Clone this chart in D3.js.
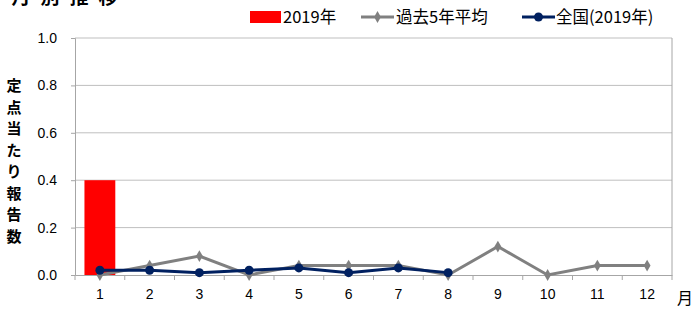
<!DOCTYPE html>
<html>
<head>
<meta charset="utf-8">
<script src="https://cdn.jsdelivr.net/npm/d3@7"></script>
<style>
  body { margin: 0; background: #fff; }
  text { font-family: "Liberation Sans", "Noto Sans CJK JP", sans-serif; }
</style>
</head>
<body>
<svg id="chart"></svg>
<script>
// データ
const months = ["1", "2", "3", "4", "5", "6", "7", "8", "9", "10", "11", "12"];
const yTicks = [0, 0.2, 0.4, 0.6, 0.8, 1.0];
const bar2019 = [0.4, null, null, null, null, null, null, null, null, null, null, null];
const avg5yr = [0.00, 0.04, 0.08, 0.00, 0.04, 0.04, 0.04, 0.00, 0.12, 0.00, 0.04, 0.04];
const national = [0.02, 0.02, 0.01, 0.02, 0.03, 0.01, 0.03, 0.01, null, null, null, null];

const width = 695, height = 309;
const margin = { top: 38, right: 23, bottom: 34, left: 75 };
const jp = "'Noto Sans CJK JP', sans-serif";

const svg = d3.select("#chart").attr("width", width).attr("height", height);

const x = d3.scaleBand()
    .domain(months)
    .range([margin.left, width - margin.right]);

const y = d3.scaleLinear()
    .domain([0, 1])
    .range([height - margin.bottom, margin.top]);

// グリッド線
svg.append("g")
    .selectAll("line")
    .data(yTicks.slice(1))
    .enter().append("line")
    .attr("x1", margin.left)
    .attr("x2", width - margin.right)
    .attr("y1", d => y(d))
    .attr("y2", d => y(d))
    .attr("stroke", "#bfbfbf")
    .attr("stroke-width", 1);

// 右枠
svg.append("line")
    .attr("x1", width - margin.right).attr("x2", width - margin.right)
    .attr("y1", y(1)).attr("y2", y(0))
    .attr("stroke", "#a6a6a6");

// 棒グラフ
const barW = x.bandwidth() * 0.62;
svg.selectAll(".bar")
    .data(months.map((m, i) => ({ m, v: bar2019[i] })).filter(d => d.v != null))
    .enter().append("rect")
    .attr("class", "bar")
    .attr("x", d => x(d.m) + (x.bandwidth() - barW) / 2)
    .attr("y", d => y(d.v))
    .attr("width", barW)
    .attr("height", d => y(0) - y(d.v))
    .attr("fill", "#ff0000");

// Y軸
const yAxis = svg.append("g")
    .attr("transform", `translate(${margin.left},0)`)
    .call(d3.axisLeft(y).tickValues(yTicks).tickFormat(d3.format(".1f")).tickSize(4).tickPadding(14));
yAxis.select(".domain").attr("stroke", "#a6a6a6");
yAxis.selectAll("line").attr("stroke", "#a6a6a6");
yAxis.selectAll("text").style("font-size", "14px").attr("fill", "#000");

// X軸
const xAxis = svg.append("g")
    .attr("transform", `translate(0,${y(0)})`)
    .call(d3.axisBottom(x).tickSize(0).tickPadding(14));
xAxis.select(".domain").attr("stroke", "#a6a6a6");
xAxis.selectAll("text").style("font-size", "14px").attr("fill", "#000");

// X軸の目盛り（区切り）
svg.append("g")
    .selectAll("line")
    .data(months.concat(["end"]))
    .enter().append("line")
    .attr("x1", (d, i) => margin.left + i * x.step())
    .attr("x2", (d, i) => margin.left + i * x.step())
    .attr("y1", y(0))
    .attr("y2", y(0) + 5)
    .attr("stroke", "#a6a6a6");

// 折れ線
const line = d3.line()
    .defined(d => d.v != null)
    .x(d => x(d.m) + x.bandwidth() / 2)
    .y(d => y(d.v));

const avgData = months.map((m, i) => ({ m, v: avg5yr[i] }));
const natData = months.map((m, i) => ({ m, v: national[i] }));

svg.append("path")
    .datum(avgData)
    .attr("fill", "none")
    .attr("stroke", "#808080")
    .attr("stroke-width", 3)
    .attr("d", line);

svg.selectAll(".avgPt")
    .data(avgData.filter(d => d.v != null))
    .enter().append("path")
    .attr("class", "avgPt")
    .attr("transform", d => `translate(${x(d.m) + x.bandwidth() / 2},${y(d.v)})`)
    .attr("d", d3.symbol().type(d3.symbolDiamond).size(40))
    .attr("fill", "#808080");

svg.append("path")
    .datum(natData)
    .attr("fill", "none")
    .attr("stroke", "#002060")
    .attr("stroke-width", 3)
    .attr("d", line);

svg.selectAll(".natPt")
    .data(natData.filter(d => d.v != null))
    .enter().append("circle")
    .attr("class", "natPt")
    .attr("cx", d => x(d.m) + x.bandwidth() / 2)
    .attr("cy", d => y(d.v))
    .attr("r", 4.5)
    .attr("fill", "#002060");

// 「月」ラベル
svg.append("text")
    .attr("x", 677)
    .attr("y", 304)
    .style("font-family", jp)
    .style("font-size", "16px")
    .text("月");

// Y軸タイトル（縦書き）
const yTitle = "定点当たり報告数".split("");
svg.append("g")
    .selectAll("text")
    .data(yTitle)
    .enter().append("text")
    .attr("x", 14)
    .attr("y", (d, i) => 91 + i * 21.5)
    .attr("text-anchor", "middle")
    .style("font-family", jp)
    .style("font-size", "15px")
    .style("font-weight", "bold")
    .text(d => d);

// タイトル（上部で切れている）
svg.append("g")
    .selectAll("text")
    .data("月別推移".split(""))
    .enter().append("text")
    .attr("x", (d, i) => 21 + i * 29)
    .attr("y", 4)
    .attr("text-anchor", "middle")
    .style("font-family", jp)
    .style("font-size", "19px")
    .style("font-weight", "bold")
    .text(d => d);

// 凡例
const legend = svg.append("g").attr("transform", "translate(0,17)");
legend.append("rect")
    .attr("x", 250).attr("y", -6).attr("width", 31).attr("height", 12)
    .attr("fill", "#ff0000");
legend.append("text")
    .attr("x", 283).attr("y", 6)
    .style("font-family", jp).style("font-size", "16.5px")
    .text("2019年");

legend.append("line")
    .attr("x1", 361).attr("x2", 394).attr("y1", 0).attr("y2", 0)
    .attr("stroke", "#808080").attr("stroke-width", 3);
legend.append("path")
    .attr("transform", "translate(377.5,0)")
    .attr("d", d3.symbol().type(d3.symbolDiamond).size(40))
    .attr("fill", "#808080");
legend.append("text")
    .attr("x", 396).attr("y", 6)
    .style("font-family", jp).style("font-size", "16.5px")
    .text("過去5年平均");

legend.append("line")
    .attr("x1", 522).attr("x2", 555).attr("y1", 0).attr("y2", 0)
    .attr("stroke", "#002060").attr("stroke-width", 3);
legend.append("circle")
    .attr("cx", 538.5).attr("cy", 0).attr("r", 4.5)
    .attr("fill", "#002060");
legend.append("text")
    .attr("x", 556).attr("y", 6)
    .style("font-family", jp).style("font-size", "16.5px")
    .text("全国(2019年)");
</script>
</body>
</html>
